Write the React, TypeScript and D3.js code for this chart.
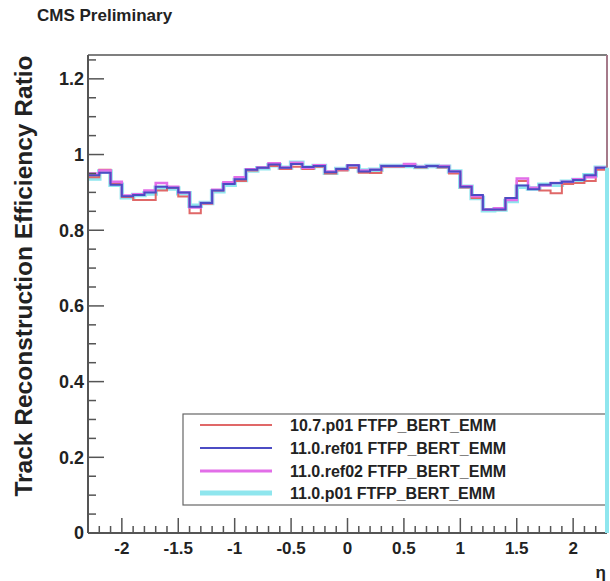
import React from "react";
import * as d3 from "d3";

// Efficiency ratio per eta bin (0.1 wide, from -2.3 to 2.3)
const etaMin = -2.3;
const etaMax = 2.3;
const binWidth = 0.1;

const ratio107p01 = [
  0.940, 0.960, 0.925, 0.888, 0.880, 0.880, 0.905, 0.912, 0.889, 0.845,
  0.870, 0.905, 0.925, 0.930, 0.958, 0.965, 0.970, 0.962, 0.968, 0.962,
  0.968, 0.950, 0.958, 0.965, 0.952, 0.951, 0.968, 0.968, 0.970, 0.966,
  0.970, 0.966, 0.950, 0.913, 0.885, 0.854, 0.855, 0.885, 0.930, 0.910,
  0.905, 0.898, 0.922, 0.925, 0.930, 0.960,
];
const ratio110ref01 = [
  0.945, 0.952, 0.920, 0.890, 0.893, 0.900, 0.915, 0.912, 0.900, 0.862,
  0.872, 0.905, 0.922, 0.935, 0.960, 0.965, 0.974, 0.965, 0.975, 0.967,
  0.970, 0.953, 0.962, 0.972, 0.955, 0.960, 0.970, 0.970, 0.970, 0.967,
  0.970, 0.968, 0.955, 0.915, 0.893, 0.855, 0.855, 0.885, 0.918, 0.908,
  0.920, 0.925, 0.928, 0.933, 0.945, 0.965,
];
const ratio110ref02 = [
  0.950, 0.958, 0.928, 0.892, 0.895, 0.905, 0.925, 0.915, 0.900, 0.860,
  0.872, 0.907, 0.927, 0.940, 0.961, 0.966, 0.977, 0.966, 0.978, 0.965,
  0.972, 0.955, 0.962, 0.972, 0.958, 0.960, 0.970, 0.970, 0.975, 0.968,
  0.970, 0.970, 0.955, 0.916, 0.890, 0.855, 0.858, 0.880, 0.937, 0.912,
  0.918, 0.925, 0.928, 0.935, 0.940, 0.965,
];
const ratio110p01 = [
  0.937, 0.955, 0.920, 0.887, 0.893, 0.897, 0.912, 0.910, 0.898, 0.865,
  0.872, 0.903, 0.920, 0.933, 0.958, 0.964, 0.972, 0.965, 0.978, 0.966,
  0.970, 0.952, 0.962, 0.968, 0.958, 0.960, 0.970, 0.970, 0.970, 0.967,
  0.970, 0.968, 0.955, 0.915, 0.885, 0.853, 0.855, 0.877, 0.915, 0.910,
  0.920, 0.920, 0.928, 0.933, 0.945, 0.965,
];

const legendLabels = [
  "10.7.p01 FTFP_BERT_EMM",
  "11.0.ref01 FTFP_BERT_EMM",
  "11.0.ref02 FTFP_BERT_EMM",
  "11.0.p01 FTFP_BERT_EMM",
];

const xTickValues = [-2, -1.5, -1, -0.5, 0, 0.5, 1, 1.5, 2];
const xTickLabels = ["-2", "-1.5", "-1", "-0.5", "0", "0.5", "1", "1.5", "2"];
const yTickValues = [0, 0.2, 0.4, 0.6, 0.8, 1, 1.2];
const yTickLabels = ["0", "0.2", "0.4", "0.6", "0.8", "1", "1.2"];

const W = 610;
const H = 581;
const left = 88;
const right = 607;
const top = 55;
const bottom = 533;
const yMax = 1.263;

const font = "'Liberation Sans', Arial, Helvetica, sans-serif";

type Series = { values: number[]; color: string; width: number; legendWidth: number };

export default function App() {
  const x = d3.scaleLinear().domain([etaMin, etaMax]).range([left, right]);
  const y = d3.scaleLinear().domain([0, yMax]).range([bottom, top]);

  const series: Series[] = [
    { values: ratio107p01, color: "#e06868", width: 2, legendWidth: 2 },
    { values: ratio110ref01, color: "#4c4cc4", width: 2, legendWidth: 2 },
    { values: ratio110ref02, color: "#e26ee8", width: 2.5, legendWidth: 3 },
    { values: ratio110p01, color: "#8fe6ee", width: 4.5, legendWidth: 5 },
  ];

  // Step outline of a histogram across its bins
  const histPath = (vals: number[]) => {
    const pts: [number, number][] = [];
    vals.forEach((v, i) => {
      const lo = etaMin + i * binWidth;
      pts.push([lo, v], [lo + binWidth, v]);
    });
    return d3
      .line<[number, number]>()
      .x((d) => x(d[0]))
      .y((d) => y(d[1]))(pts) as string;
  };

  // Draw order: thick light series first so the thin lines stay visible
  const drawOrder = [3, 0, 2, 1];

  const xMinor = d3.range(-23, 24).map((k) => k / 10);
  const yMinor = d3.range(0, 26).map((k) => k * 0.05).filter((v) => v <= yMax);

  const legend = { x0: 183, y0: 414, x1: 607, y1: 505 };
  const rowY = [425, 448, 471, 493];
  const lastCyan = ratio110p01[ratio110p01.length - 1];

  return (
    <svg
      width={W}
      height={H}
      style={{ position: "absolute", left: 0, top: 0, background: "#fff" }}
      fontFamily={font}
    >
      <rect x={0} y={0} width={W} height={H} fill="#fff" />

      <text x={37} y={21} fontSize={17} fontWeight="bold" fill="#222">
        CMS Preliminary
      </text>

      {/* histograms */}
      <g fill="none" strokeLinejoin="miter">
        {drawOrder.map((i) => (
          <path
            key={i}
            d={histPath(series[i].values)}
            stroke={series[i].color}
            strokeWidth={series[i].width}
          />
        ))}
      </g>

      {/* frame */}
      <line x1={left} x2={right} y1={top} y2={top} stroke="#555" strokeWidth={1.5} />
      <line x1={right} x2={right} y1={top} y2={y(lastCyan)} stroke="#a57a8a" strokeWidth={2} />
      <line x1={left} x2={left} y1={top} y2={bottom} stroke="#555" strokeWidth={2} />
      <line x1={left} x2={right} y1={bottom} y2={bottom} stroke="#555" strokeWidth={2} />

      {/* x ticks */}
      <g stroke="#555" strokeWidth={1.5}>
        {xMinor.map((v) => {
          const major = xTickValues.some((t) => Math.abs(t - v) < 1e-6);
          return (
            <line key={v} x1={x(v)} x2={x(v)} y1={bottom} y2={bottom - (major ? 15 : 7)} />
          );
        })}
      </g>
      {xTickValues.map((v, i) => (
        <text
          key={v}
          x={x(v)}
          y={bottom + 21}
          fontSize={17}
          fontWeight="bold"
          textAnchor="middle"
          fill="#222"
        >
          {xTickLabels[i]}
        </text>
      ))}
      <text x={606} y={578} fontSize={17} fontWeight="bold" textAnchor="end" fill="#222">
        η
      </text>

      {/* y ticks */}
      <g stroke="#555" strokeWidth={1.5}>
        {yMinor.map((v) => {
          const major = yTickValues.some((t) => Math.abs(t - v) < 1e-6);
          return (
            <line key={v} x1={left} x2={left + (major ? 16 : 8)} y1={y(v)} y2={y(v)} />
          );
        })}
      </g>
      {yTickValues.map((v, i) => (
        <text
          key={v}
          x={84}
          y={y(v)}
          dy="0.36em"
          fontSize={18}
          fontWeight="bold"
          textAnchor="end"
          fill="#222"
        >
          {yTickLabels[i]}
        </text>
      ))}
      <text
        transform={`translate(32, 276) rotate(-90)`}
        fontSize={24.5}
        fontWeight="bold"
        textAnchor="middle"
        fill="#222"
      >
        Track Reconstruction Efficiency Ratio
      </text>

      {/* legend */}
      <rect
        x={legend.x0}
        y={legend.y0}
        width={legend.x1 - legend.x0}
        height={legend.y1 - legend.y0}
        fill="#fff"
        stroke="#666"
        strokeWidth={1.2}
      />
      {series.map((s, i) => (
        <g key={i}>
          <line x1={200} x2={272} y1={rowY[i]} y2={rowY[i]} stroke={s.color} strokeWidth={s.legendWidth} />
          <text x={290} y={rowY[i]} dy="0.36em" fontSize={16} fontWeight="bold" fill="#222">
            {legendLabels[i]}
          </text>
        </g>
      ))}

      {/* closing edge of the thick series along the right border */}
      <line x1={right} x2={right} y1={y(lastCyan)} y2={bottom} stroke="#8fe6ee" strokeWidth={4} />
    </svg>
  );
}
